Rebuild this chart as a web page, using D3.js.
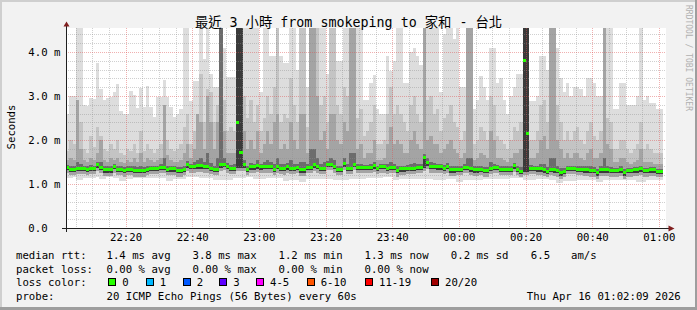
<!DOCTYPE html>
<html><head><meta charset="utf-8">
<script src="https://cdn.jsdelivr.net/npm/d3@7"></script>
<style>
html,body{margin:0;padding:0;background:#f2f2f2;}
svg{display:block;}
text{font-family:"DejaVu Sans Mono",monospace;fill:#000;}
</style></head><body>
<svg id="c" width="697" height="310"></svg>
<script>
// ---- data (ms), one value per 60 s step ----
const maxRtt = [
2.6,3.0,3.0,4.6,4.6,2.8,2.78,2.95,2.93,3.76,
3.16,2.92,2.95,2.98,3.1,3.28,2.65,2.6,2.6,3.12,
3.03,2.73,3.18,2.76,3.23,2.76,2.53,2.98,2.98,3.37,
2.98,2.76,2.53,2.6,2.7,4.6,4.6,2.88,3.33,3.33,
4.6,3.84,4.6,3.5,3.2,3.2,4.6,4.1,3.44,3.44,
3.44,4.6,4.6,4.6,4.6,4.6,4.6,4.6,3.1,4.6,
4.6,3.9,3.9,4.6,3.9,3.75,3.75,4.6,4.6,3.6,
4.6,4.6,3.2,4.6,4.6,4.6,4.6,4.6,3.5,4.6,
4.6,3.8,3.8,4.6,4.6,4.6,4.6,4.6,4.6,2.9,
2.9,3.3,3.48,2.7,2.6,2.6,3.9,3.56,3.8,4.6,
4.6,3.3,3.3,4.0,4.1,3.9,3.7,4.6,4.6,4.6,
4.6,4.6,3.1,4.4,4.6,4.6,4.3,4.6,3.21,3.21,
4.6,4.6,2.7,2.9,3.45,3.2,2.9,4.1,4.1,3.3,
3.4,2.9,2.6,3.0,3.2,3.5,3.5,4.6,4.6,2.88,
2.88,3.0,3.9,3.9,3.6,4.6,4.6,4.1,3.4,3.1,
3.3,3.0,3.2,3.2,3.15,3.0,3.4,3.4,3.3,3.0,
3.0,4.6,4.6,4.6,2.7,2.7,3.3,3.3,2.8,2.8,
2.8,3.0,4.6,2.9,3.0,2.85,2.85,2.7,2.7];
const p90 = [
1.75,2.0,1.9,2.6,2.4,1.8,1.7,2.1,1.85,2.3,
2.1,1.8,1.75,1.9,1.8,2.0,1.7,1.65,1.8,1.75,
1.9,1.7,2.2,1.75,1.9,1.8,1.7,1.8,1.9,2.65,
2.0,1.8,1.75,1.8,1.9,2.3,2.6,1.9,2.2,2.5,
3.5,2.4,3.15,3.1,2.4,2.8,4.6,2.9,2.2,2.3,
2.2,4.6,4.6,3.0,2.5,2.9,2.4,2.8,2.2,2.5,
3.0,2.6,3.2,4.6,2.4,2.6,2.5,3.4,2.8,2.4,
4.6,4.6,2.3,4.6,4.6,4.6,2.8,3.0,2.4,4.6,
4.6,2.8,2.6,3.2,3.0,4.6,4.6,2.5,2.7,2.1,
2.2,2.4,2.8,1.9,1.9,2.0,2.6,3.2,2.6,2.8,
2.6,2.4,2.2,2.8,3.0,2.6,2.4,4.6,2.9,3.0,
2.6,2.7,2.2,2.5,2.6,2.8,2.4,2.3,2.0,2.2,
4.6,4.6,1.9,2.0,2.3,2.2,2.0,3.0,2.8,2.1,
2.0,1.9,1.8,2.0,2.3,2.2,2.4,4.6,4.6,2.0,
2.0,2.2,2.8,2.9,2.4,4.6,4.6,2.8,2.4,2.0,
2.2,2.0,2.2,2.3,2.0,1.9,2.2,2.4,2.1,2.0,
2.2,4.6,2.5,2.4,1.8,1.8,2.0,2.0,1.8,1.7,
1.8,1.9,2.4,1.8,1.9,1.8,1.7,1.7,1.7];
const p75 = [
1.55,1.6,1.55,2.9,1.8,1.55,1.5,1.6,1.55,1.7,
2.0,1.55,1.5,1.6,1.55,1.6,1.5,1.48,1.55,1.5,
1.6,1.5,1.7,1.5,1.6,1.55,1.5,1.55,1.6,2.8,
1.65,1.55,1.5,1.5,1.55,1.7,1.9,1.6,1.8,2.6,
2.4,1.8,3.0,2.4,1.8,2.4,4.6,2.2,1.7,1.7,
1.7,4.6,4.6,2.2,1.8,2.0,1.8,2.2,1.7,1.9,
2.2,1.9,2.4,2.6,1.8,1.9,1.8,2.4,2.0,1.8,
2.6,2.6,1.7,4.6,4.6,3.0,2.0,2.2,1.8,2.6,
2.6,2.0,1.9,2.4,2.2,4.6,4.6,1.8,1.9,1.6,
1.7,1.7,2.0,1.55,1.55,1.6,1.9,2.3,1.9,2.0,
1.9,1.7,1.7,2.0,2.2,1.9,1.8,4.6,2.0,2.1,
1.9,1.9,1.7,1.8,1.9,2.0,1.8,1.7,1.6,1.7,
4.6,4.6,1.55,1.6,1.7,1.65,1.6,2.2,2.0,1.6,
1.6,1.55,1.5,1.6,1.7,1.7,1.8,4.6,4.6,1.6,
1.6,1.7,2.0,2.1,1.8,4.6,4.6,2.0,1.8,1.6,
1.7,1.6,1.7,1.7,1.6,1.55,1.7,1.8,1.6,1.6,
1.7,4.6,1.9,1.8,1.5,1.5,1.6,1.6,1.5,1.45,
1.5,1.55,1.8,1.5,1.5,1.5,1.45,1.45,1.45];
const p60 = [
1.44,1.42,1.42,1.5,1.46,1.42,1.4,1.44,1.42,1.5,
1.5,1.4,1.4,1.42,1.46,1.4,1.4,1.38,1.4,1.4,
1.4,1.38,1.4,1.38,1.42,1.42,1.42,1.42,1.46,1.6,
1.42,1.42,1.4,1.38,1.38,1.42,1.52,1.46,1.5,1.55,
1.6,1.5,1.7,1.48,1.42,1.6,4.6,1.6,1.48,1.44,
1.46,4.6,4.6,1.55,1.42,1.48,1.46,1.55,1.46,1.5,
1.55,1.5,1.45,1.6,1.45,1.45,1.48,1.55,1.45,1.46,
1.5,1.5,1.45,1.8,1.8,1.6,1.45,1.5,1.52,1.6,
1.55,1.42,1.42,1.6,1.46,1.7,1.7,1.46,1.46,1.44,
1.44,1.45,1.5,1.42,1.46,1.46,1.45,1.5,1.46,1.4,
1.42,1.42,1.44,1.46,1.48,1.46,1.46,1.68,1.58,1.5,
1.48,1.46,1.46,1.44,1.48,1.42,1.42,1.42,1.42,1.45,
1.6,1.6,1.4,1.4,1.42,1.38,1.38,1.5,1.46,1.44,
1.4,1.4,1.4,1.42,1.48,1.42,1.38,4.6,4.6,1.44,
1.42,1.42,1.46,1.45,1.38,1.6,1.6,1.4,1.36,1.36,
1.42,1.42,1.42,1.4,1.4,1.4,1.4,1.4,1.38,1.34,
1.4,1.6,1.42,1.38,1.37,1.37,1.4,1.34,1.37,1.37,
1.39,1.39,1.42,1.37,1.37,1.39,1.38,1.35,1.35];
const p55 = [
1.4,1.36,1.36,1.38,1.38,1.38,1.36,1.38,1.38,1.46,
1.4,1.35,1.35,1.35,1.42,1.36,1.36,1.33,1.36,1.36,
1.33,1.33,1.33,1.33,1.36,1.38,1.38,1.38,1.4,1.4,
1.36,1.37,1.37,1.33,1.33,1.36,1.46,1.42,1.42,1.44,
1.44,1.42,1.42,1.38,1.36,1.36,1.47,1.47,1.42,1.38,
1.38,4.6,4.6,1.46,1.36,1.41,1.41,1.44,1.41,1.42,
1.42,1.42,1.36,1.42,1.38,1.38,1.41,1.38,1.38,1.4,
1.35,1.35,1.4,1.4,1.46,1.42,1.38,1.38,1.47,1.47,
1.42,1.36,1.36,1.48,1.38,1.38,1.47,1.4,1.4,1.4,
1.4,1.4,1.44,1.38,1.42,1.42,1.38,1.4,1.4,1.33,
1.37,1.37,1.38,1.38,1.38,1.4,1.4,1.63,1.5,1.42,
1.42,1.41,1.41,1.38,1.42,1.35,1.35,1.36,1.36,1.4,
1.4,1.37,1.35,1.35,1.36,1.33,1.33,1.38,1.4,1.4,
1.36,1.36,1.36,1.36,1.44,1.36,1.31,4.6,4.6,1.38,
1.38,1.37,1.37,1.35,1.31,1.36,1.35,1.33,1.28,1.31,
1.38,1.38,1.38,1.36,1.36,1.35,1.35,1.33,1.33,1.28,
1.35,1.35,1.35,1.33,1.33,1.33,1.35,1.28,1.33,1.33,
1.35,1.35,1.37,1.33,1.33,1.35,1.35,1.31,1.31];
const median = [
1.38,1.34,1.34,1.36,1.36,1.36,1.34,1.36,1.36,1.44,
1.38,1.33,1.33,1.33,1.40,1.34,1.34,1.31,1.34,1.34,
1.31,1.31,1.31,1.31,1.34,1.36,1.36,1.36,1.38,1.38,
1.34,1.35,1.35,1.31,1.31,1.34,1.44,1.40,1.40,1.42,
1.42,1.40,1.40,1.36,1.34,1.34,1.45,1.45,1.40,1.36,
1.36,2.39,1.71,1.44,1.34,1.39,1.39,1.42,1.39,1.40,
1.40,1.40,1.34,1.40,1.36,1.36,1.39,1.36,1.36,1.38,
1.33,1.33,1.38,1.38,1.44,1.40,1.36,1.36,1.45,1.45,
1.40,1.34,1.34,1.46,1.36,1.36,1.45,1.38,1.38,1.38,
1.38,1.38,1.42,1.36,1.40,1.40,1.36,1.38,1.38,1.31,
1.35,1.35,1.36,1.36,1.36,1.38,1.38,1.61,1.48,1.40,
1.40,1.39,1.39,1.36,1.40,1.33,1.33,1.34,1.34,1.38,
1.38,1.35,1.33,1.33,1.34,1.31,1.31,1.36,1.38,1.38,
1.34,1.34,1.34,1.34,1.42,1.34,1.29,3.80,2.15,1.36,
1.36,1.35,1.35,1.33,1.29,1.34,1.33,1.31,1.26,1.29,
1.36,1.36,1.36,1.34,1.34,1.33,1.33,1.31,1.31,1.26,
1.33,1.33,1.33,1.31,1.31,1.31,1.33,1.26,1.31,1.31,
1.33,1.33,1.35,1.31,1.31,1.33,1.33,1.29,1.29];
const p40 = [
1.31,1.27,1.27,1.29,1.29,1.29,1.27,1.29,1.29,1.37,
1.31,1.26,1.26,1.26,1.33,1.27,1.27,1.24,1.27,1.27,
1.24,1.24,1.24,1.24,1.27,1.29,1.29,1.29,1.31,1.31,
1.27,1.28,1.28,1.24,1.24,1.27,1.37,1.33,1.33,1.35,
1.35,1.33,1.33,1.29,1.27,1.27,1.36,1.38,1.33,1.29,
1.29,1.36,1.36,1.37,1.27,1.32,1.32,1.35,1.32,1.33,
1.33,1.33,1.27,1.33,1.29,1.29,1.32,1.29,1.29,1.31,
1.26,1.26,1.31,1.31,1.37,1.33,1.29,1.29,1.38,1.38,
1.33,1.27,1.27,1.39,1.29,1.29,1.38,1.31,1.31,1.31,
1.31,1.31,1.35,1.29,1.33,1.33,1.29,1.31,1.31,1.24,
1.28,1.28,1.29,1.29,1.29,1.31,1.31,1.36,1.4,1.33,
1.33,1.32,1.32,1.29,1.33,1.26,1.26,1.27,1.27,1.31,
1.31,1.28,1.26,1.26,1.27,1.24,1.24,1.29,1.31,1.31,
1.27,1.27,1.27,1.27,1.35,1.27,1.22,1.28,1.28,1.29,
1.29,1.28,1.28,1.26,1.22,1.27,1.26,1.24,1.19,1.22,
1.29,1.29,1.29,1.27,1.27,1.26,1.26,1.24,1.24,1.19,
1.26,1.26,1.26,1.24,1.24,1.24,1.26,1.19,1.24,1.24,
1.26,1.26,1.28,1.24,1.24,1.26,1.26,1.22,1.22];
const p25 = [
1.24,1.2,1.2,1.22,1.22,1.22,1.2,1.22,1.22,1.3,
1.24,1.19,1.19,1.19,1.26,1.2,1.2,1.17,1.2,1.2,
1.17,1.17,1.17,1.17,1.2,1.22,1.22,1.22,1.24,1.24,
1.2,1.21,1.21,1.17,1.17,1.2,1.3,1.26,1.26,1.28,
1.28,1.26,1.26,1.22,1.2,1.2,1.3,1.31,1.26,1.22,
1.22,1.3,1.3,1.3,1.2,1.25,1.25,1.28,1.25,1.26,
1.26,1.26,1.2,1.26,1.22,1.2,1.25,1.22,1.22,1.24,
1.19,1.19,1.24,1.24,1.3,1.26,1.22,1.22,1.31,1.31,
1.26,1.2,1.2,1.32,1.22,1.22,1.31,1.24,1.24,1.24,
1.24,1.24,1.28,1.22,1.26,1.26,1.22,1.24,1.24,1.17,
1.21,1.21,1.22,1.22,1.22,1.24,1.24,1.3,1.33,1.26,
1.26,1.25,1.25,1.22,1.26,1.19,1.19,1.2,1.2,1.24,
1.24,1.21,1.19,1.19,1.2,1.17,1.17,1.22,1.24,1.24,
1.2,1.2,1.2,1.2,1.28,1.2,1.15,1.2,1.2,1.22,
1.22,1.21,1.21,1.19,1.15,1.2,1.19,1.17,1.12,1.15,
1.22,1.22,1.22,1.2,1.2,1.19,1.19,1.17,1.17,1.12,
1.19,1.19,1.19,1.17,1.17,1.17,1.19,1.12,1.17,1.17,
1.19,1.19,1.21,1.17,1.17,1.19,1.19,1.15,1.15];
const minRtt = [
1.14,1.14,1.17,1.10,1.10,1.14,1.14,1.14,1.14,1.17,
1.11,1.11,1.17,1.17,1.14,1.14,1.06,1.06,1.11,1.11,
1.14,1.14,1.14,1.14,1.14,1.14,1.14,1.14,1.14,1.14,
1.06,1.06,1.11,1.11,1.11,1.11,1.16,1.16,1.16,1.16,
1.14,1.14,1.14,1.14,1.10,1.10,1.10,1.10,1.10,1.10,
1.14,1.14,1.14,1.14,1.16,1.16,1.11,1.11,1.11,1.11,
1.14,1.14,1.14,1.14,1.14,1.06,1.06,1.10,1.10,1.10,
1.04,1.04,1.11,1.11,1.11,1.11,1.11,1.11,1.11,1.11,
1.10,1.10,1.10,1.10,1.10,1.11,1.11,1.11,1.11,1.11,
1.14,1.14,1.14,1.14,1.14,1.16,1.16,1.16,1.10,1.10,
1.11,1.11,1.11,1.11,1.11,1.11,1.11,1.11,1.11,1.11,
1.08,1.08,1.08,1.08,1.11,1.11,1.11,1.04,1.04,1.10,
1.10,1.10,1.10,1.10,1.10,1.11,1.11,1.11,1.11,1.11,
1.11,1.11,1.11,1.14,1.14,1.14,1.14,1.10,1.10,1.10,
1.10,1.11,1.11,1.11,1.11,1.08,1.08,1.02,1.02,1.06,
1.06,1.06,1.06,1.10,1.10,1.10,1.10,1.10,1.10,1.04,
1.04,1.10,1.10,1.10,1.10,1.10,1.10,1.10,1.10,1.10,
1.10,1.04,1.04,1.04,1.08,1.08,1.08,1.08,1.08];

const yTickValues = [0, 1, 2, 3, 4];
const yTickLabels = ["0.0", "1.0 m", "2.0 m", "3.0 m", "4.0 m"];
const xTickLabels = ["22:20","22:40","23:00","23:20","23:40","00:00","00:20","00:40","01:00"];
const titleText = "最近 3 小時 from smokeping to 家和 - 台北";
const rowLabels = ["median rtt:", "packet loss:", "loss color:", "probe:"];
const rttStats = ["1.4 ms avg", "3.8 ms max", "1.2 ms min", "1.3 ms now", "0.2 ms sd", "6.5", "am/s"];
const lossStats = ["0.00 % avg", "0.00 % max", "0.00 % min", "0.00 % now"];
const lossNames = ["0", "1", "2", "3", "4-5", "6-10", "11-19", "20/20"];
const lossColors = ["#26ff00", "#00b8ff", "#0059ff", "#5e00ff", "#ff00ff", "#ff5500", "#ff0000", "#a00000"];
const probeText = "20 ICMP Echo Pings (56 Bytes) every 60s";
const dateText = "Thu Apr 16 01:02:09 2026";
const sideText = "RRDTOOL / TOBI OETIKER";

// ---- layout ----
const W = 697, H = 310;
const L = 66, R = 666, T = 28, B = 228;
const t0 = new Date(2026, 3, 15, 22, 2, 9), t1 = new Date(2026, 3, 16, 1, 2, 9);
const x = d3.scaleTime().domain([t0, t1]).range([L, R]);
const yMax = (B - T) / 44;
const y = d3.scaleLinear().domain([0, yMax]).range([B, T]);

const svg = d3.select("#c");
svg.append("rect").attr("width", W).attr("height", H).attr("fill", "#f2f2f2");
svg.append("path").attr("d", "M0,0H697V2H2V310H0Z").attr("fill", "#cfcfcf");
svg.append("path").attr("d", "M697,0V310H0V307H695V0Z").attr("fill", "#9e9e9e");

svg.append("defs").append("clipPath").attr("id", "pc")
  .append("rect").attr("x", L).attr("y", T).attr("width", R - L).attr("height", B - T);
svg.append("rect").attr("x", L).attr("y", T).attr("width", R - L).attr("height", B - T).attr("fill", "#fff");

const g = svg.append("g").attr("clip-path", "url(#pc)");
const n = median.length;
const rows = d3.range(n + 1).map(i => ({ t: new Date(+t0 + i * 60000), k: Math.min(i, n - 1) }));
const clampV = v => Math.min(v, yMax + 0.05);

function band(lo, hi, color) {
  const a = d3.area().curve(d3.curveStepAfter)
    .x(d => x(d.t)).y0(d => y(lo[d.k])).y1(d => y(clampV(hi[d.k])));
  g.append("path").datum(rows).attr("d", a).attr("fill", color).attr("shape-rendering", "crispEdges");
}
band(minRtt, maxRtt, "#dddddd");
band(p25, p90, "#c4c4c4");
band(p25, p75, "#a4a4a4");
band(p40, p60, "#6c6c6c");
band(p40, p55, "#3a3a3a");

// ---- grid ----
const grid = svg.append("g");
const px = v => Math.round(v) + 0.5;
const minorCol = "rgba(143,143,143,0.42)", majorCol = "rgba(222,79,79,0.45)";
const minorY = d3.range(0.2, yMax, 0.2).filter(v => Math.abs(v - Math.round(v)) > 0.01);
grid.selectAll(".hy").data(minorY).join("line")
  .attr("x1", L).attr("x2", R).attr("y1", d => px(y(d))).attr("y2", d => px(y(d)))
  .attr("stroke", minorCol).attr("stroke-dasharray", "1,1");
const minorX = d3.timeMinute.every(5).range(t0, t1).filter(d => d.getMinutes() % 20 !== 0);
grid.selectAll(".vx").data(minorX).join("line")
  .attr("y1", T).attr("y2", B).attr("x1", d => px(x(d))).attr("x2", d => px(x(d)))
  .attr("stroke", minorCol).attr("stroke-dasharray", "1,1");
grid.selectAll(".my").data(yTickValues.slice(1)).join("line")
  .attr("x1", L).attr("x2", R).attr("y1", d => px(y(d))).attr("y2", d => px(y(d)))
  .attr("stroke", majorCol).attr("stroke-dasharray", "1,1");

function labelTime(s) {
  const [h, m] = s.split(":").map(Number);
  return new Date(2026, 3, h >= 12 ? 15 : 16, h, m, 0);
}
const xTickTimes = xTickLabels.map(labelTime);
grid.selectAll(".mx").data(xTickTimes).join("line")
  .attr("y1", T).attr("y2", B).attr("x1", d => px(x(d))).attr("x2", d => px(x(d)))
  .attr("stroke", majorCol).attr("stroke-dasharray", "1,1");

// ---- median ----
svg.append("g").attr("clip-path", "url(#pc)").selectAll("rect").data(d3.range(n)).join("rect")
  .attr("x", i => x(rows[i].t)).attr("width", i => x(rows[i + 1].t) - x(rows[i].t))
  .attr("y", i => y(median[i]) - 1.5).attr("height", 3)
  .attr("fill", lossColors[0]).attr("shape-rendering", "crispEdges");

// ---- axes ----
const axisCol = "#1f1f1f", arrowCol = "#801f1f";
svg.append("line").attr("x1", 62).attr("x2", 669).attr("y1", B + 0.5).attr("y2", B + 0.5).attr("stroke", axisCol);
svg.append("line").attr("x1", L + 0.5).attr("x2", L + 0.5).attr("y1", B + 4).attr("y2", 25).attr("stroke", axisCol);
svg.append("path").attr("d", `M${L + 0.5},21.5L${L + 3.5},26.5L${L - 2.5},26.5Z`).attr("fill", arrowCol);
svg.append("path").attr("d", `M674.5,${B + 0.5}L668.5,${B - 2.5}L668.5,${B + 3.5}Z`).attr("fill", arrowCol);

const fontSize = "10.67px";
const yAxis = svg.append("g").attr("transform", `translate(${L},0)`)
  .call(d3.axisLeft(y).tickValues(yTickValues).tickFormat((d, i) => yTickLabels[i]).tickSize(0));
yAxis.select(".domain").remove();
yAxis.selectAll("text").attr("x", 28.3 - L).attr("text-anchor", "start").attr("dy", "0.36em")
  .style("font-family", "'DejaVu Sans Mono', monospace").style("font-size", fontSize).attr("fill", "#000");

const xAxis = svg.append("g").attr("transform", `translate(0,${B})`)
  .call(d3.axisBottom(x).tickValues(xTickTimes).tickFormat((d, i) => xTickLabels[i]).tickSize(0).tickPadding(5));
xAxis.select(".domain").remove();
xAxis.selectAll("text").style("font-family", "'DejaVu Sans Mono', monospace").style("font-size", fontSize).attr("fill", "#000");

// ---- texts ----
svg.append("text").attr("x", 348.5).attr("y", 26.5).attr("text-anchor", "middle")
  .style("font-family", "'DejaVu Sans Mono','Noto Sans CJK TC',monospace").style("font-size", "13.33px").text(titleText);
svg.append("text").attr("transform", "translate(15,127) rotate(-90)").attr("text-anchor", "middle")
  .style("font-size", fontSize).text("Seconds");
svg.append("text").attr("transform", "translate(685.5,5) rotate(90)").attr("text-anchor", "start")
  .style("font-size", "8px").style("fill", "#b0b0b0").text(sideText);

const lineY = [259, 272.5, 286.2, 299.7];
const leg = svg.append("g").style("font-size", fontSize).attr("xml:space", "preserve");
rowLabels.forEach((s, i) => leg.append("text").attr("x", 16).attr("y", lineY[i]).text(s));
const rttX = [106.5, 192.5, 278.5, 364.5, 450.8, 530.8, 571];
rttStats.forEach((s, i) => leg.append("text").attr("x", rttX[i]).attr("y", lineY[0]).text(s));
lossStats.forEach((s, i) => leg.append("text").attr("x", rttX[i]).attr("y", lineY[1]).text(s));
const boxX = [108.3, 145.7, 182.7, 219.3, 256, 306.7, 365, 431];
lossNames.forEach((s, i) => {
  leg.append("rect").attr("x", Math.round(boxX[i]) + 0.5).attr("y", 278.5).attr("width", 7).attr("height", 7)
    .attr("fill", lossColors[i]).attr("stroke", "#000");
  leg.append("text").attr("x", boxX[i] + 14).attr("y", lineY[2]).text(s);
});
leg.append("text").attr("x", 106.5).attr("y", lineY[3]).text(probeText);
leg.append("text").attr("x", 680.8).attr("y", lineY[3]).attr("text-anchor", "end").text(dateText);
</script>
</body></html>
